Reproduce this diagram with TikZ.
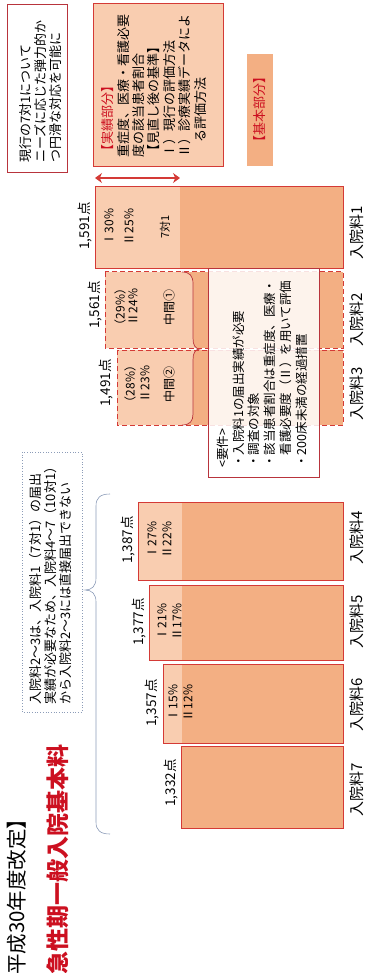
\documentclass[tikz,border=0pt]{standalone}
\usepackage{fontspec}
\setmainfont{Noto Sans CJK JP}
\usetikzlibrary{arrows.meta}
\definecolor{lightp}{HTML}{F9CDB0}
\definecolor{darkp}{HTML}{F3AF83}
\definecolor{barred}{HTML}{D43A36}
\definecolor{boxred}{HTML}{B8343C}
\definecolor{titlered}{HTML}{CC1020}
\definecolor{bluegray}{HTML}{8C9CB8}
\begin{document}
\begin{tikzpicture}[x=1pt,y=-1pt,
  rt/.style={rotate=90, inner sep=0pt},
  fbox/.style={font=\fontsize{13}{15.4}\selectfont, align=left},
  val/.style={rt, font=\fontsize{13.5}{15}\selectfont},
  pct/.style={rt, font=\fontsize{12}{13}\selectfont},
  lab/.style={rt, font=\fontsize{15}{17}\selectfont},
  barline/.style={draw=barred, line width=1pt},
  dashbar/.style={draw=barred, line width=1pt, dash pattern=on 5pt off 3pt}]
\useasboundingbox (0,0) rectangle (367,973);

% ---- titles
\node[rt, anchor=west, font=\fontsize{20.5}{24}\selectfont] (t1) at (17,975) {平成30年度改定】};
\node[rt, anchor=west, font=\fontsize{23}{26}\selectfont\bfseries, text=titlered] (t2) at (58,975) {急性期一般入院基本料};

% ---- top boxes
\draw[boxred, line width=0.8pt, fill=white] (7,4) rectangle (67,172);
\node[rt, fbox, anchor=west] (genko) at (40.5,163) {現行の7対1について\\ニーズに応じた弾力的か\\つ円滑な対応を可能に};

\draw[barred, line width=1pt, fill=lightp] (93,4) rectangle (223,167);
\node[rt, fbox, anchor=west] (jisseki) at (154,158) {\textcolor{titlered}{【実績部分】}\\重症度、医療・看護必要\\度の該当患者割合\\【見直し後の基準】\\Ⅰ）現行の評価方法\\Ⅱ）診療実績データによ\\\hspace*{1.2em}る評価方法};

\fill[darkp] (247,54) rectangle (273,166);
\node[rt, font=\fontsize{13}{15}\selectfont, text=titlered] (kihon) at (260,110) {【基本部分】};

\coordinate (aL) at (95,178);
\coordinate (aR) at (180,178);
\draw[barred, line width=1.2pt, {Stealth[length=7pt,width=10pt]}-{Stealth[length=7pt,width=10pt]}] (aL) -- (aR);

% ---- bar 1
\fill[darkp] (95,187) rectangle (343,269);
\fill[lightp] (95,187) rectangle (180,269);
\draw[barline] (95,187) rectangle (343,269);

% ---- bars 2,3
\fill[darkp] (105,272) rectangle (343,348);
\fill[darkp] (117,350) rectangle (343,425);
\begin{scope}
\clip (105,272) rectangle (343,348) (117,350) rectangle (343,425);
\fill[lightp] (100,272) -- (182,272) .. controls (190,272) and (193,276) .. (193,284) -- (193,338) .. controls (193,345) and (195,349) .. (200,349) .. controls (195,349) and (193,353) .. (193,360) -- (193,414) .. controls (193,421) and (190,425) .. (182,425) -- (100,425) -- cycle;
\end{scope}
\draw[boxred, line width=0.7pt] (182,272) .. controls (190,272) and (193,276) .. (193,284) -- (193,338) .. controls (193,345) and (195,349) .. (200,349) .. controls (195,349) and (193,353) .. (193,360) -- (193,414) .. controls (193,421) and (190,425) .. (182,425);
\draw[dashbar] (105,272) rectangle (343,348);
\draw[dashbar] (117,350) rectangle (343,425);

% ---- requirements box
\draw[boxred, line width=0.8pt, fill=white, fill opacity=0.85] (208,268) rectangle (319,477);
\node[rt, font=\fontsize{12.5}{15.8}\selectfont, align=left, anchor=west] (yoken) at (262,468) {<要件>\\・入院料1の届出実績が必要\\・調査の対象\\・該当患者割合は重症度、医療・\\\hspace*{1em}看護必要度（Ⅱ）を用いて評価\\・200床未満の経過措置};

% ---- bars 4-7
\fill[darkp] (138,502) rectangle (343,580);
\fill[lightp] (138,502) rectangle (182,580);
\draw[barline] (138,502) rectangle (343,580);
\fill[darkp] (149,585) rectangle (343,660);
\fill[lightp] (149,585) rectangle (182,660);
\draw[barline] (149,585) rectangle (343,660);
\fill[darkp] (163,664) rectangle (343,743);
\fill[lightp] (163,664) rectangle (182,743);
\draw[barline] (163,664) rectangle (343,743);
\fill[darkp] (181,746) rectangle (343,828);
\draw[barline] (181,746) rectangle (343,828);

% ---- dotted note and brace
\draw[bluegray, line width=0.7pt, dotted] (22,452) rectangle (82,712);
\node[rt, font=\fontsize{13}{15}\selectfont, align=left, anchor=west] (note) at (50,705) {入院料2～3は、入院料1（7対1）の届出\\実績が必要なため、入院料4～7（10対1）\\から入院料2～3には直接届出できない};
\draw[bluegray, line width=0.6pt] (110,494) .. controls (100,494) and (96,498) .. (96,506) -- (96,578) .. controls (96,586) and (92,590) .. (85,590) .. controls (92,590) and (96,594) .. (96,602) -- (96,822) .. controls (96,830) and (100,834) .. (110,834);

% ---- bar labels
\node[val] (v1) at (85,226) {1,591点};
\node[pct] (p1a) at (109,227) {Ⅰ30\%};
\node[pct] (p1b) at (129,227) {Ⅱ25\%};
\node[rt, font=\fontsize{11}{13}\selectfont] (p1c) at (165,227) {7対1};

\node[val] (v2) at (95,305) {1,561点};
\node[pct] (p2a) at (120,307) {（29\%）};
\node[pct] (p2b) at (133,307) {Ⅱ24\%};
\node[pct] (p2c) at (169,307) {中間①};

\node[val] (v3) at (106,383) {1,491点};
\node[pct] (p3a) at (130,384) {（28\%）};
\node[pct] (p3b) at (145,384) {Ⅱ23\%};
\node[pct] (p3c) at (169,384) {中間②};

\node[val] (v4) at (128,540) {1,387点};
\node[pct] (p4a) at (152,540) {Ⅰ27\%};
\node[pct] (p4b) at (167,540) {Ⅱ22\%};

\node[val] (v5) at (139,622) {1,377点};
\node[pct] (p5a) at (162,622) {Ⅰ21\%};
\node[pct] (p5b) at (177,622) {Ⅱ17\%};

\node[val] (v6) at (152,703) {1,357点};
\node[pct] (p6a) at (173,703) {Ⅰ15\%};
\node[pct] (p6b) at (188,703) {Ⅱ12\%};

\node[val] (v7) at (171,783) {1,332点};

% ---- bottom labels
\node[lab] (l1) at (357,233) {入院料1};
\node[lab] (l2) at (357,320) {入院料2};
\node[lab] (l3) at (357,394) {入院料3};
\node[lab] (l4) at (357,538) {入院料4};
\node[lab] (l5) at (357,622) {入院料5};
\node[lab] (l6) at (357,705) {入院料6};
\node[lab] (l7) at (357,790) {入院料7};
\end{tikzpicture}
\end{document}
